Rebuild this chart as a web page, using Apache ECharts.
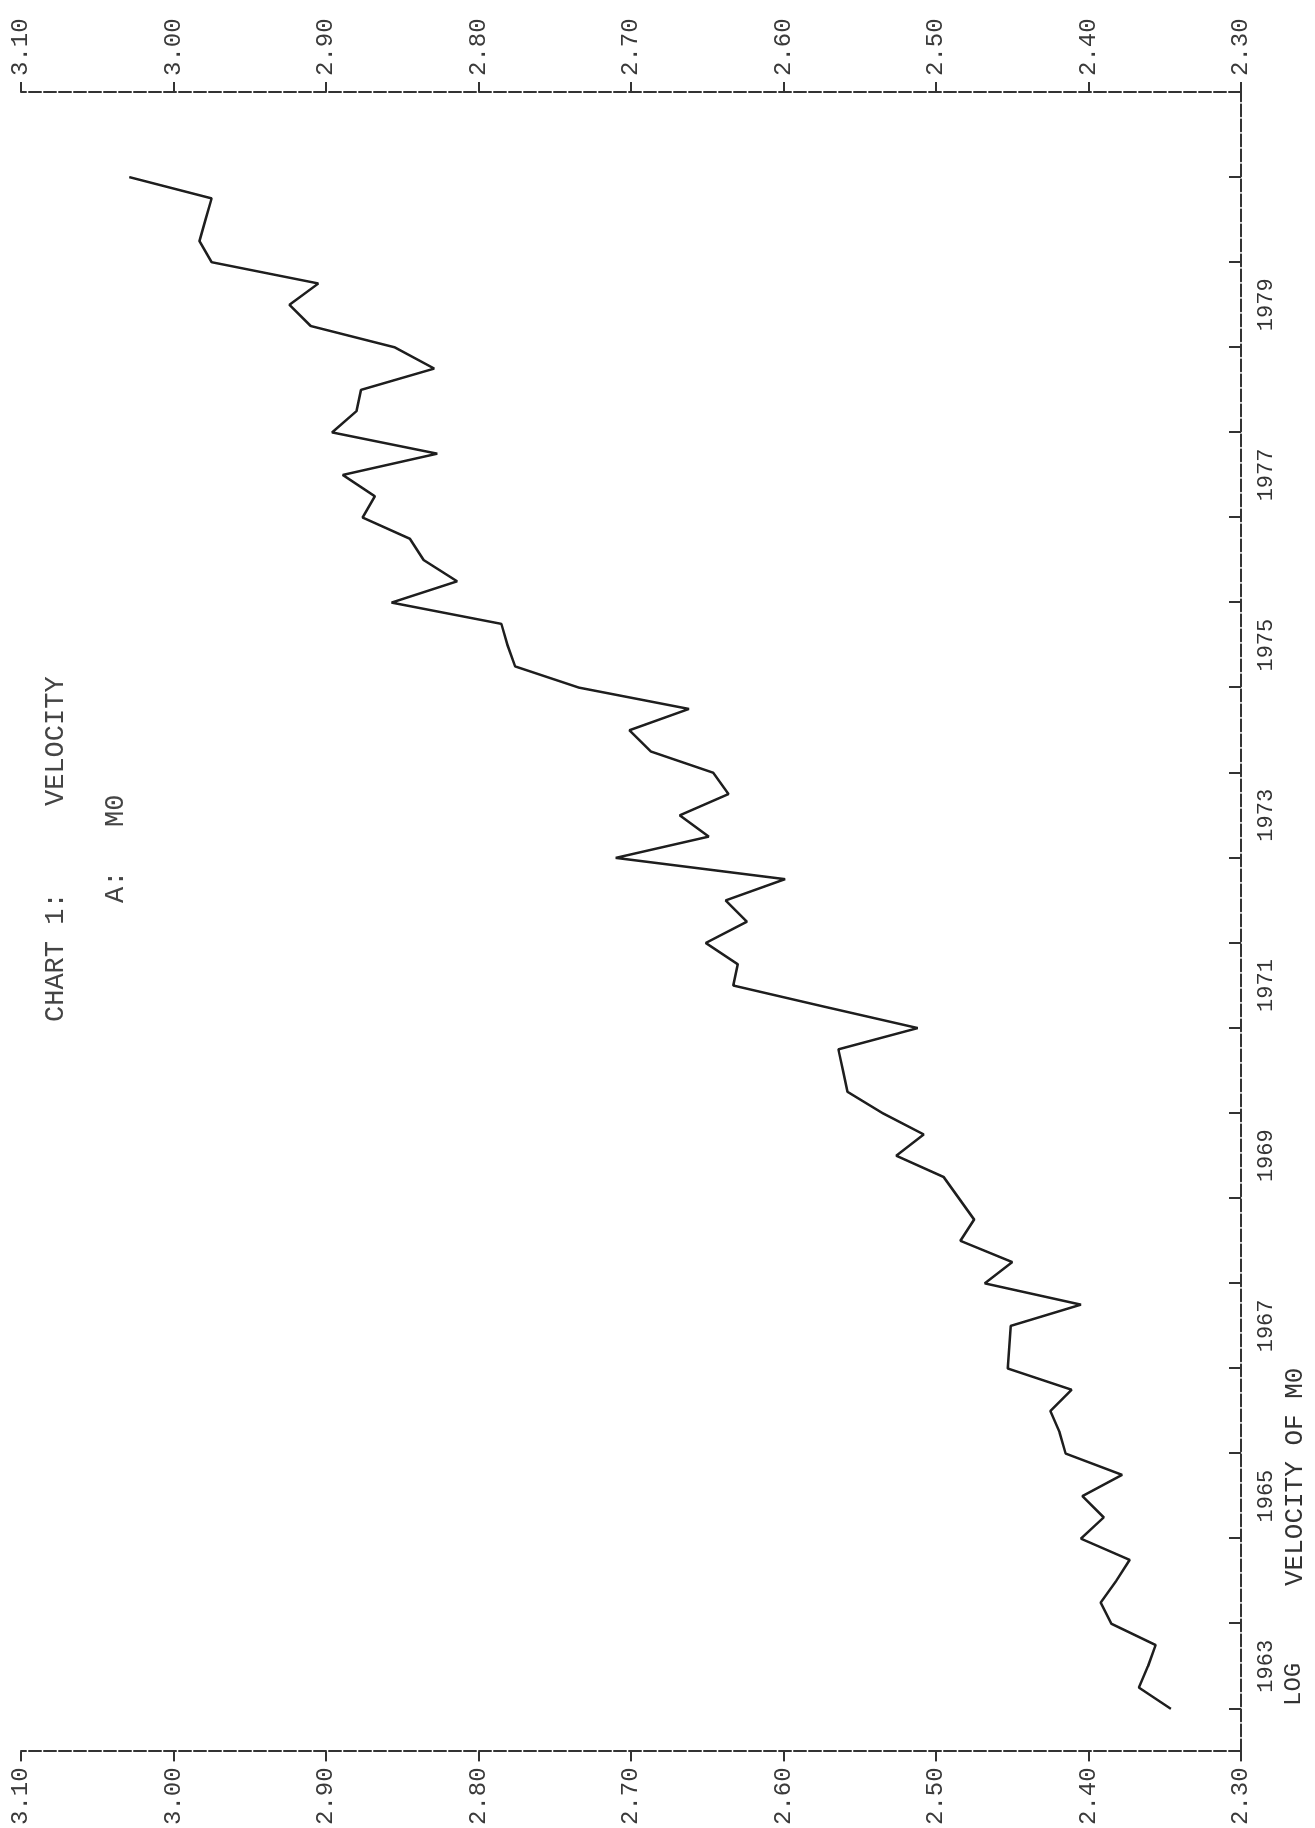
<!DOCTYPE html>
<html>
<head>
<meta charset="utf-8">
<script src="https://cdn.jsdelivr.net/npm/echarts@6/dist/echarts.min.js"></script>
<style>
  html, body { margin: 0; padding: 0; background: #ffffff; overflow: hidden; }
  body { width: 1315px; height: 1828px; position: relative; }
  /* The reference is a landscape chart printed sideways: draw it upright, then turn it a quarter turn counter-clockwise */
  #chart {
    position: absolute; left: 0; top: 0;
    width: 1828px; height: 1315px;
    transform-origin: 0 0;
    transform: translateY(1828px) rotate(-90deg);
  }
</style>
</head>
<body>
<div id="chart"></div>
<script>
// ---- data (quarterly, 1963Q1 .. 1981Q1) ----
const startYear = 1963;
const velocity = [
  2.346, 2.367, 2.361, 2.356,   // 1963
  2.385, 2.392, 2.382, 2.373,   // 1964
  2.405, 2.390, 2.404, 2.378,   // 1965
  2.415, 2.419, 2.425, 2.411,   // 1966
  2.453, 2.452, 2.451, 2.405,   // 1967
  2.468, 2.450, 2.484, 2.475,   // 1968
  2.485, 2.495, 2.526, 2.508,   // 1969
  2.535, 2.558, 2.561, 2.564,   // 1970
  2.512, 2.573, 2.633, 2.630,   // 1971
  2.651, 2.624, 2.638, 2.599,   // 1972
  2.710, 2.649, 2.668, 2.636,   // 1973
  2.646, 2.687, 2.701, 2.662,   // 1974
  2.734, 2.776, 2.781, 2.785,   // 1975
  2.857, 2.814, 2.836, 2.845,   // 1976
  2.876, 2.868, 2.889, 2.827,   // 1977
  2.896, 2.880, 2.877, 2.829,   // 1978
  2.855, 2.910, 2.924, 2.905,   // 1979
  2.975, 2.983, 2.979, 2.975,   // 1980
  3.029                         // 1981
];
const yearTicks = [1963, 1964, 1965, 1966, 1967, 1968, 1969, 1970, 1971, 1972,
                   1973, 1974, 1975, 1976, 1977, 1978, 1979, 1980, 1981, 1982];
const yearLabels = ['1963', '1965', '1967', '1969', '1971', '1973', '1975', '1977', '1979'];
const valueTickLabels = ['2.30', '2.40', '2.50', '2.60', '2.70', '2.80', '2.90', '3.00', '3.10'];
const titleLine1 = ['CHART 1:', 'VELOCITY'];
const titleLine2 = ['A:', 'M0'];
const axisName = 'VELOCITY OF M0';
const axisNote = 'LOG';

// ---- chart ----
const ink = '#1e1e1e';
const axisInk = '#333333';
const mono = '"Liberation Mono", "DejaVu Sans Mono", monospace';
const chart = echarts.init(document.getElementById('chart'), null, { renderer: 'canvas' });

const seriesData = velocity.map((v, i) => [startYear + i / 4, v]);

function valueAxis(pos) {
  return {
    type: 'value',
    position: pos,
    min: 2.3,
    max: 3.1,
    interval: 0.1,
    axisLine: { show: true, lineStyle: { color: axisInk, width: 2, type: [12, 3] } },
    axisTick: { show: true, inside: false, length: 10, lineStyle: { color: axisInk, width: 2 } },
    axisLabel: {
      show: true,
      margin: 16,
      fontFamily: mono,
      fontSize: 24,
      color: '#3a3a3a',
      formatter: function (v) {
        const idx = Math.round((v - 2.3) * 10);
        return valueTickLabels[idx] !== undefined ? valueTickLabels[idx] : '';
      }
    },
    splitLine: { show: false }
  };
}

const option = {
  backgroundColor: '#ffffff',
  animation: false,
  grid: { left: 71, right: 92, top: 21, bottom: 74, containLabel: false },
  xAxis: {
    type: 'value',
    position: 'bottom',
    min: 1962.5,
    max: 1982,
    axisLine: { show: true, onZero: false, lineStyle: { color: axisInk, width: 2, type: [12, 3] } },
    axisTick: {
      show: true, inside: true, length: 12,
      customValues: yearTicks,
      lineStyle: { color: axisInk, width: 2 }
    },
    axisLabel: {
      show: true,
      margin: 14,
      fontFamily: mono,
      fontSize: 22,
      color: '#333',
      customValues: yearLabels.map(y => Number(y) + 0.5),
      formatter: function (v) { return String(Math.floor(v)); }
    },
    splitLine: { show: false }
  },
  yAxis: [valueAxis('left'), valueAxis('right')],
  series: [{
    type: 'line',
    data: seriesData,
    xAxisIndex: 0,
    yAxisIndex: 0,
    showSymbol: false,
    symbol: 'none',
    lineStyle: { color: ink, width: 2.5 },
    silent: true
  }],
  graphic: [
    { type: 'text', left: 806, top: 42, style: { text: titleLine1[0], font: '27px ' + mono, fill: '#444' } },
    { type: 'text', left: 1022, top: 42, style: { text: titleLine1[1], font: '27px ' + mono, fill: '#444' } },
    { type: 'text', left: 925, top: 102, style: { text: titleLine2[0], font: '27px ' + mono, fill: '#444' } },
    { type: 'text', left: 1001, top: 102, style: { text: titleLine2[1], font: '27px ' + mono, fill: '#444' } },
    { type: 'text', left: 122, top: 1282, style: { text: axisNote, font: '24px ' + mono, fill: '#333' } },
    { type: 'text', left: 242, top: 1282, style: { text: axisName, font: '26px ' + mono, fill: '#333' } }
  ]
};
chart.setOption(option);
</script>
</body>
</html>
